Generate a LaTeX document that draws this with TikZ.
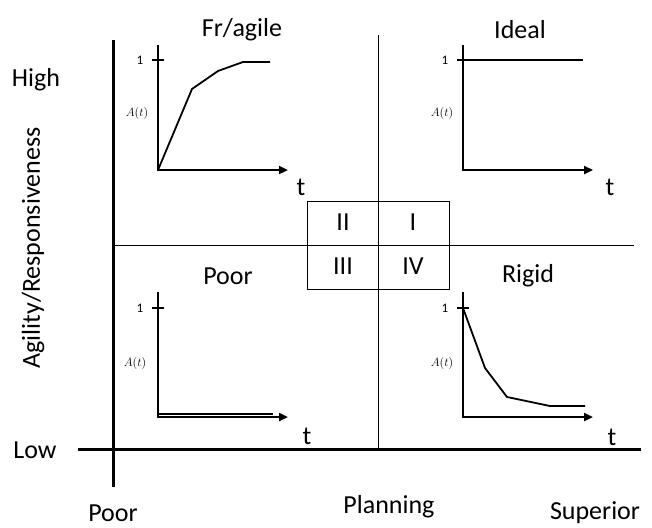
\documentclass[tikz,border=0pt]{standalone}
\usepackage{fontspec}
\setmainfont{Carlito}
\usetikzlibrary{arrows.meta}
\tikzset{
  mainaxis/.style={line width=3pt},
  thinline/.style={line width=1pt},
  plotaxis/.style={line width=2.5pt, -{Triangle[length=9pt,width=8pt]}},
  curve/.style={line width=1.8pt},
  biglabel/.style={font=\fontsize{26}{30}\selectfont},
  smalllabel/.style={font=\fontsize{13}{15}\selectfont},
}
\begin{document}
\begin{tikzpicture}[x=1pt,y=-1pt]
    \useasboundingbox (0,0) rectangle (652,527);

    % quadrant grid and main axes
    \draw[thinline] (378,35) -- (378,449);
    \draw[thinline] (113,245) -- (634,245);
    \draw[mainaxis] (113,40) -- (113,487);
    \draw[mainaxis] (78,449) -- (641,449);

    % axis labels
    \node[biglabel] (high) at (36,80) {High};
    \node[biglabel] (low) at (35,450) {Low};
    \node[biglabel, rotate=90] (agility) at (33,248) {Agility/Responsiveness};
    \node[biglabel] (poorend) at (113,513) {Poor};
    \node[biglabel] (planning) at (389,507) {Planning};
    \node[biglabel] (superior) at (595,513) {Superior};

    % quadrant key
    \draw[thinline] (307,201) rectangle (449,289);
    \node[biglabel] (qtwo) at (343,222) {II};
    \node[biglabel] (qone) at (413,222) {I};
    \node[biglabel] (qthree) at (343,266) {III};
    \node[biglabel] (qfour) at (413,266) {IV};

    % Fr/agile (top left)
    \node[biglabel] (fragile) at (242,30) {Fr/agile};
    \begin{scope}[shift={(158,170)}]
        \draw[plotaxis] (0,-125) -- (0,0) -- (130,0);
        \draw[line width=1.5pt] (-6,-110) -- (6,-110);
        \node[smalllabel] (oneA) at (-18,-110) {1};
        \node[smalllabel] (ampA) at (-21,-57) {$A(t)$};
        \node[biglabel] (timeA) at (143,17) {t};
        \draw[curve] (0,0) -- (34,-81) -- (60,-99) -- (85,-108) -- (112,-108);
    \end{scope}

    % Ideal (top right)
    \node[biglabel] (ideal) at (520,30) {Ideal};
    \begin{scope}[shift={(463,170)}]
        \draw[plotaxis] (0,-125) -- (0,0) -- (130,0);
        \draw[line width=1.5pt] (-6,-110) -- (6,-110);
        \node[smalllabel] (oneB) at (-18,-110) {1};
        \node[smalllabel] (ampB) at (-21,-57) {$A(t)$};
        \node[biglabel] (timeB) at (147,17) {t};
        \draw[curve] (0,-110) -- (120,-110);
    \end{scope}

    % Poor (bottom left)
    \node[biglabel] (poor) at (228,276) {Poor};
    \begin{scope}[shift={(158,417)}]
        \draw[plotaxis] (0,-125) -- (0,0) -- (130,0);
        \draw[line width=1.5pt] (-6,-109) -- (6,-109);
        \node[smalllabel] (oneC) at (-18,-109) {1};
        \node[smalllabel] (ampC) at (-23,-54) {$A(t)$};
        \node[biglabel] (timeC) at (149,19) {t};
        \draw[curve] (0,-3) -- (115,-3);
    \end{scope}

    % Rigid (bottom right)
    \node[biglabel] (rigid) at (528,276) {Rigid};
    \begin{scope}[shift={(463,417)}]
        \draw[plotaxis] (0,-125) -- (0,0) -- (130,0);
        \draw[line width=1.5pt] (-6,-109) -- (6,-109);
        \node[smalllabel] (oneD) at (-18,-109) {1};
        \node[smalllabel] (ampD) at (-21,-54) {$A(t)$};
        \node[biglabel] (timeD) at (149,20) {t};
        \draw[curve] (0,-109) -- (22,-49) -- (44,-20) -- (87,-11) -- (122,-11);
    \end{scope}
\end{tikzpicture}
\end{document}
